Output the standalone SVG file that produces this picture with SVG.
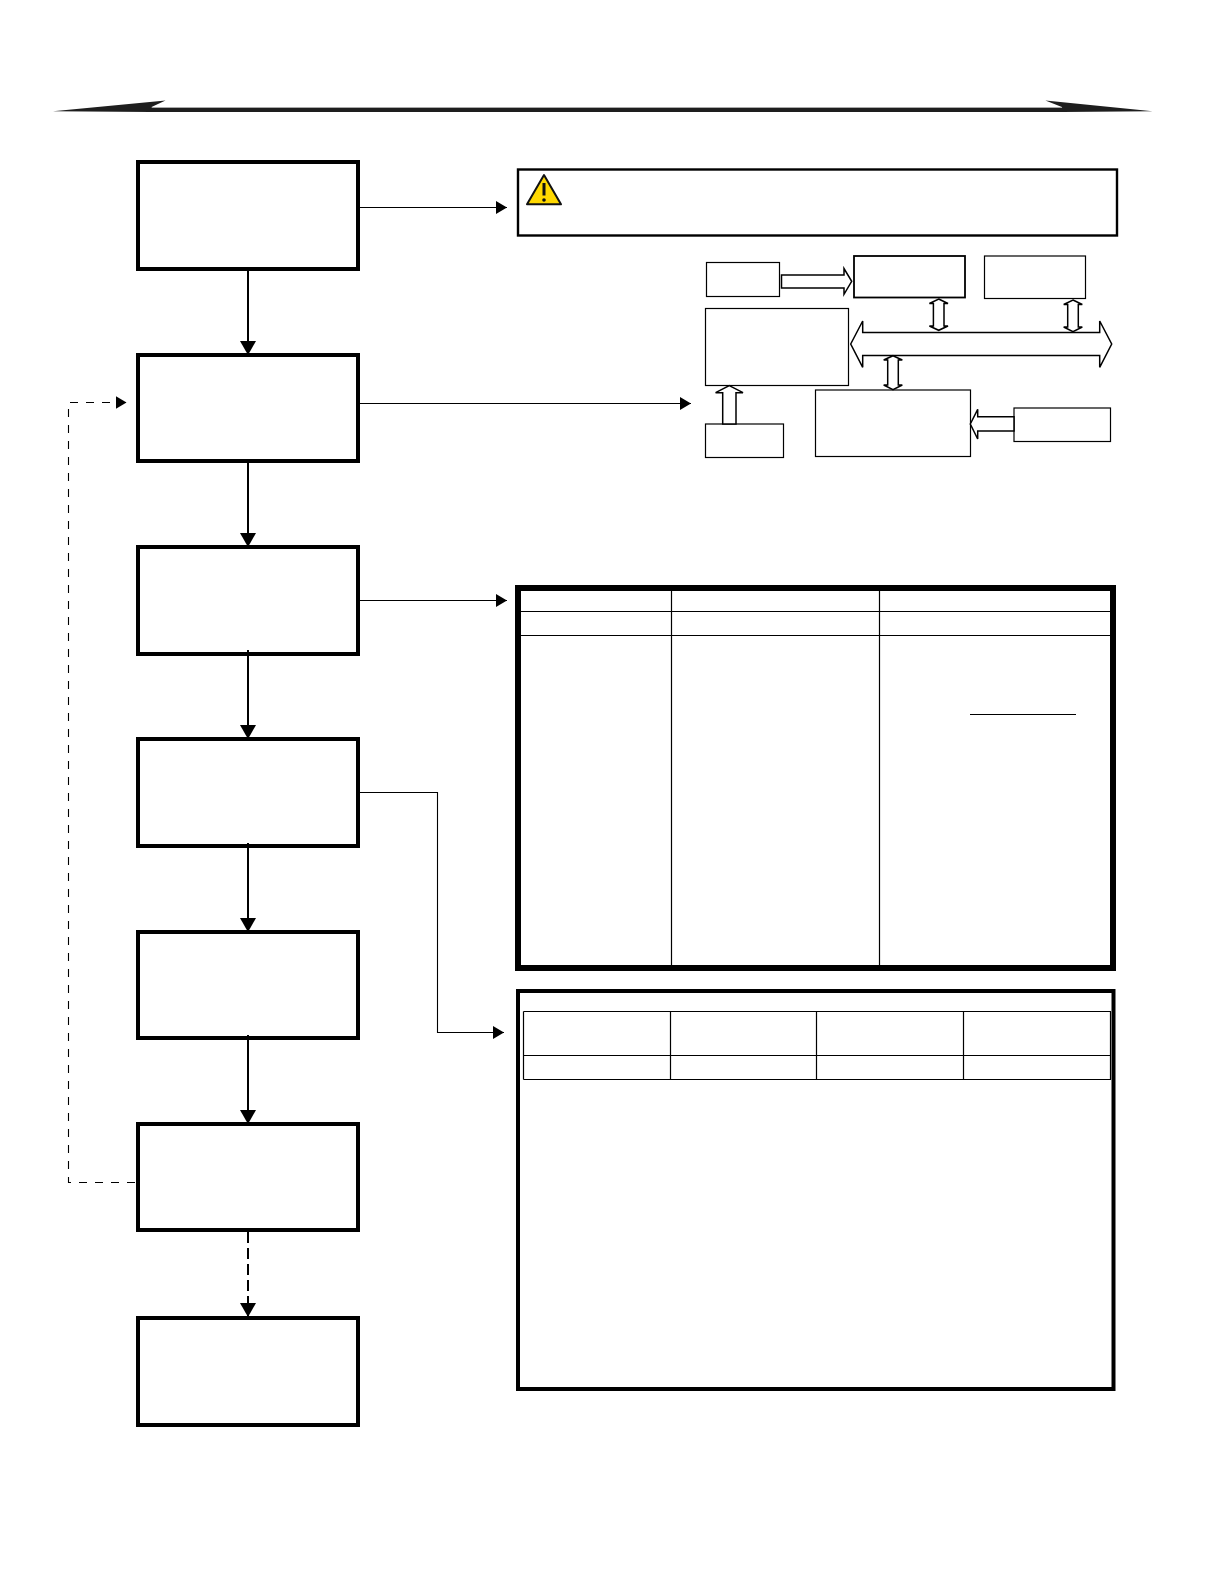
<svg xmlns="http://www.w3.org/2000/svg" width="1224" height="1584" viewBox="0 0 1224 1584">
<style>
.step{fill:#fff;stroke:#000;stroke-width:4}
.thin{fill:#fff;stroke:#000;stroke-width:1.2}
.mid{fill:#fff;stroke:#000;stroke-width:1.8}
.bus{fill:#fff;stroke:#000;stroke-width:1.5;stroke-linejoin:miter}
.grid{fill:none;stroke:#000;stroke-width:1.2}
.c{fill:none;stroke:#000;stroke-width:1.1}
.v{fill:none;stroke:#000;stroke-width:2}
</style>
<defs>
<marker id="big" markerUnits="userSpaceOnUse" markerWidth="16" markerHeight="16" refX="14" refY="8" orient="auto"><path d="M0 0L14 8L0 16Z" fill="#000"/></marker>
<marker id="small" markerUnits="userSpaceOnUse" markerWidth="12" markerHeight="14" refX="11" refY="7" orient="auto"><path d="M0 .5L11 7L0 13.5Z" fill="#000"/></marker>
</defs>
<g id="header-rule">
<path d="M53 111.3L165.5 100.5L151 107.3H1062.5L1045.4 100.5L1152.5 111.3L1062.5 112H151Z" fill="#1e1e1e"/>
<path d="M152 107.5H1062" stroke="#aaa" stroke-width="1"/>
</g>
<g id="step-1"><rect class="step" x="138" y="162" width="220" height="107"/></g>
<g id="step-2"><rect class="step" x="138" y="355" width="220" height="106"/></g>
<g id="step-3"><rect class="step" x="138" y="547" width="220" height="107"/></g>
<g id="step-4"><rect class="step" x="138" y="739" width="220" height="107"/></g>
<g id="step-5"><rect class="step" x="138" y="932" width="220" height="106"/></g>
<g id="step-6"><rect class="step" x="138" y="1124" width="220" height="106"/></g>
<g id="step-7"><rect class="step" x="138" y="1318" width="220" height="107"/></g>
<g id="warning-box">
<rect x="518" y="169.5" width="599" height="66" fill="#fff" stroke="#000" stroke-width="2.4"/>
<path d="M544 175L561 204.3H527Z" fill="#ffd800" stroke="#111" stroke-width="2" stroke-linejoin="round"/>
<path d="M544 183V195.5" stroke="#111" stroke-width="3"/>
<circle cx="544" cy="200" r="1.8" fill="#111"/>
</g>
<g id="block-a"><rect class="thin" x="706.5" y="262.5" width="73" height="34"/></g>
<g id="block-b"><rect class="mid" x="854" y="256" width="111" height="41.5"/></g>
<g id="block-c"><rect class="thin" x="984.5" y="256" width="101" height="42.5"/></g>
<g id="block-d"><rect class="thin" x="705.5" y="308.5" width="143" height="77"/></g>
<g id="block-e"><rect class="thin" x="705.5" y="424" width="78" height="33.5"/></g>
<g id="block-f"><rect class="thin" x="815.5" y="390" width="155" height="66.5"/></g>
<g id="block-g"><rect class="thin" x="1014" y="408" width="96.5" height="33.5"/></g>
<g id="block-arrows">
<path class="bus" d="M781.5 275H844V268.5L851.7 281.3L844 294.3V288H781.5Z"/>
<path class="bus" d="M850.7 344L862.7 321V332.5H1099.7V321L1111.7 344L1099.7 367.3V355.5H862.7V367.3Z"/>
<path class="bus" d="M938.7 299L948 303.5H944V326H948L938.7 330.3L929.4 326H933.4V303.5H929.4Z"/>
<path class="bus" d="M1073 300L1082.3 304.5H1078.3V327H1082.3L1073 331.7L1063.7 327H1067.7V304.5H1063.7Z"/>
<path class="bus" d="M893 355.7L902.3 360H898.3V385H902.3L893 389.7L883.7 385H887.7V360H883.7Z"/>
<path class="bus" d="M729.3 385.7L743 392.7H736V424H722.7V392.7H715.6Z"/>
<path class="bus" d="M970.3 424L977.7 409.3V416.7H1014V431H977.7V439Z"/>
</g>
<g id="table-1">
<rect x="518" y="588" width="595" height="380" fill="#fff" stroke="#000" stroke-width="6"/>
<path class="grid" d="M521 611.5H1110M521 635.5H1110M671.5 591V965M879.5 591V965M970 714.5H1076"/>
</g>
<g id="table-2">
<rect x="518" y="991" width="595.5" height="398" fill="#fff" stroke="#000" stroke-width="4"/>
<path class="grid" d="M523.5 1011.5H1111M523.5 1055.5H1111M523.5 1079.5H1111M523.5 1011.5V1079.5M670.5 1011.5V1079.5M816.5 1011.5V1079.5M963.5 1011.5V1079.5M1110.5 1011.5V1079.5"/>
</g>
<g id="connectors">
<path class="v" d="M248 269V355" marker-end="url(#big)"/>
<path class="v" d="M248 461V547" marker-end="url(#big)"/>
<path class="v" d="M248 650V739" marker-end="url(#big)"/>
<path class="v" d="M248 843V932" marker-end="url(#big)"/>
<path class="v" d="M248 1035V1124" marker-end="url(#big)"/>
<path class="v" d="M248 1232V1317" stroke-dasharray="11 5" marker-end="url(#big)"/>
<path class="c" d="M360 207.5H507" marker-end="url(#small)"/>
<path class="c" d="M360 403.5H691" marker-end="url(#small)"/>
<path class="c" d="M360 600.5H507" marker-end="url(#small)"/>
<path class="c" d="M360 792.5H437.5V1032.5H504" marker-end="url(#small)"/>
<path class="c" d="M135 1182.5H68.5V402.5H126.5" stroke-dasharray="8 8" marker-end="url(#small)"/>
</g>
</svg>
